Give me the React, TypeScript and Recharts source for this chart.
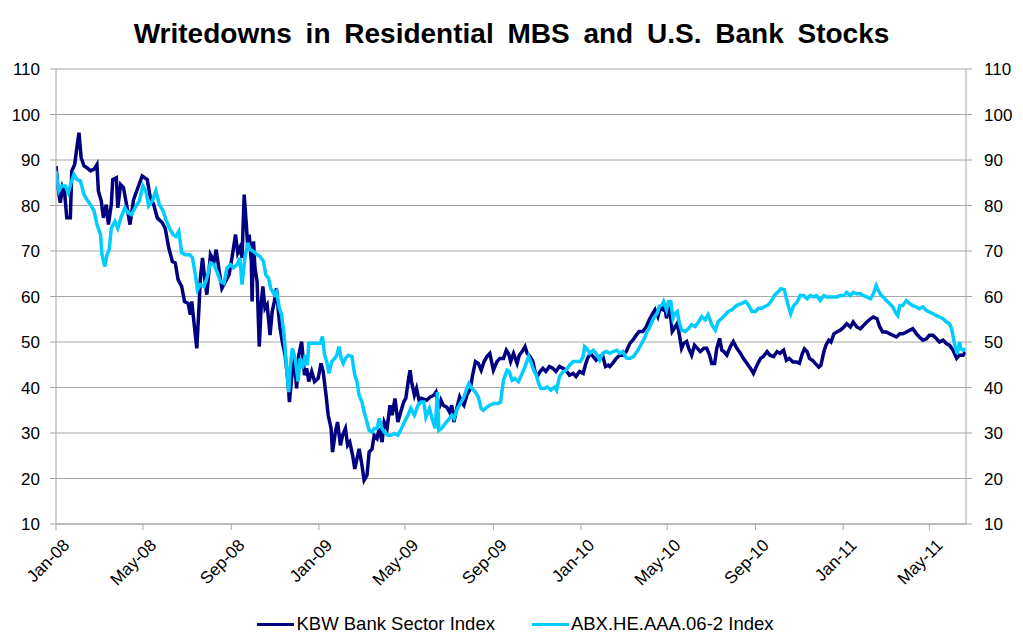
import React from "react";
import { LineChart, Line, XAxis, YAxis, CartesianGrid, Legend } from "recharts";

// x = days since 1 Jan 2008
const tickDays = [0, 121, 244, 366, 486, 609, 731, 851, 974, 1096, 1216];
const tickLabels = ["Jan-08", "May-08", "Sep-08", "Jan-09", "May-09", "Sep-09", "Jan-10", "May-10", "Sep-10", "Jan-11", "May-11"];
const yTicks = [10, 20, 30, 40, 50, 60, 70, 80, 90, 100, 110];

const kbwDays = [
  0, 3, 6, 9, 12, 15, 20, 22, 26, 29, 32, 35, 39, 43, 48, 53, 57, 59, 63, 66, 70, 73, 77, 79, 84, 86, 90, 94, 99, 103,
  108, 114, 120, 127, 131, 136, 141, 148, 152, 157, 162, 166, 170, 175, 179, 184, 187, 189, 193, 196, 199, 201, 204, 207, 210, 215, 220, 223, 227, 231,
  236, 241, 245, 250, 253, 256, 259, 262, 265, 267, 269, 272, 273, 275, 277, 280, 283, 286, 288, 291, 294, 298, 301, 304, 307, 310, 312, 315, 319, 323,
  325, 328, 332, 335, 338, 342, 346, 349, 352, 356, 360, 365, 369, 372, 376, 379, 383, 385, 389, 392, 396, 399, 403, 406, 409, 413, 416, 419, 422, 426,
  429, 433, 436, 440, 443, 447, 450, 454, 457, 461, 465, 468, 472, 476, 480, 484, 487, 491, 493, 495, 499, 502, 506, 509, 516, 521, 526, 529, 533, 536,
  539, 544, 548, 551, 554, 558, 562, 565, 568, 572, 577, 580, 584, 588, 592, 596, 600, 604, 609, 614, 618, 623, 627, 630, 633, 637, 642, 645, 649, 653,
  656, 660, 664, 667, 670, 674, 678, 682, 687, 692, 696, 701, 706, 710, 715, 720, 724, 729, 734, 737, 740, 744, 748, 752, 757, 761, 765, 769, 771, 775,
  780, 785, 789, 794, 799, 803, 808, 812, 817, 822, 826, 831, 834, 838, 841, 845, 847, 850, 853, 855, 858, 861, 865, 868, 871, 874, 878, 881, 885, 889,
  893, 897, 902, 906, 910, 913, 917, 920, 924, 927, 930, 934, 939, 943, 948, 953, 957, 962, 967, 971, 976, 981, 985, 990, 994, 999, 1004, 1008, 1013, 1017,
  1021, 1026, 1031, 1035, 1039, 1042, 1046, 1049, 1053, 1057, 1062, 1065, 1069, 1072, 1076, 1079, 1083, 1087, 1092, 1097, 1101, 1106, 1110, 1115, 1120, 1124, 1129, 1134, 1138, 1143,
  1147, 1151, 1156, 1161, 1165, 1170, 1175, 1179, 1184, 1189, 1193, 1198, 1202, 1207, 1212, 1216, 1221, 1226, 1230, 1235, 1240, 1244, 1249, 1254, 1258, 1263, 1266,
];
const kbwValues = [
  88.7, 83.5, 80.6, 84, 82.8, 77.3, 77.3, 87.6, 89, 92.7, 96, 90.5, 88.7, 88.3, 87.6, 88, 89, 83.2, 81, 77.3, 80.2, 75.8, 80.2, 85.7, 86.1, 79.5, 84.6, 83.9, 79.5, 75.8,
  81.3, 83.9, 86.5, 85.7, 82, 80.2, 77.3, 76.2, 75, 70.7, 67.7, 67.4, 63.7, 62.2, 58.9, 58.5, 56, 58.9, 53, 48.6, 57.4, 64, 68.5, 64, 60.4, 69.2, 67.7, 70.3, 65.9, 61.8,
  63.3, 64.8, 68.5, 73.6, 69.6, 70.7, 68.5, 82.4, 75.8, 70.7, 73.6, 67.7, 58.9, 72.1, 66.3, 63.3, 49, 58.9, 62.2, 57.4, 58.2, 51.5, 56.7, 58.9, 61.8, 56, 53, 50.1, 47.1, 41.3,
  36.8, 42, 46.4, 39.8, 47.1, 50.1, 42.7, 44.2, 41.3, 43.5, 41.3, 42, 45.3, 43.5, 38.3, 33.9, 31, 25.8, 30.2, 32.4, 27.3, 29.5, 31, 27.3, 28, 25.1, 22.1, 24.3, 26.5, 22.9,
  19.6, 20.7, 25.8, 26.5, 29.5, 28.8, 31, 28, 32.4, 31, 36.1, 33.9, 37.6, 32.4, 34.6, 36.8, 37.6, 42, 43.8, 41.3, 38.3, 39.8, 36.8, 37.6, 37.2, 37.9, 38.3, 39, 35.4, 37.2,
  36.1, 35.7, 34.6, 36.1, 32.4, 35.4, 37.9, 36.8, 36.1, 38.3, 39.8, 42.7, 45.7, 45.3, 43.8, 45.7, 46.8, 47.5, 43.8, 45.7, 46.4, 46.4, 48.2, 47.5, 45.7, 47.5, 45.3, 47.1, 47.9, 49,
  47.5, 46.8, 45.7, 43.5, 42.4, 43.5, 44.2, 43.5, 44.6, 44.2, 43.5, 44.6, 44.2, 43.8, 42.7, 43.1, 42.4, 43.5, 43.1, 44.9, 46.4, 47.5, 46.8, 46, 46.8, 47.1, 44.6, 44.9, 44.6, 45.3,
  46.4, 47.1, 47.1, 47.9, 49.7, 50.4, 51.5, 52.3, 52.3, 53.4, 54.9, 56.3, 57.1, 55.6, 57.4, 57.1, 58.5, 55.2, 57.4, 56.7, 52.3, 53, 54.1, 51.5, 48.6, 49.7, 50.1, 48.6, 47.1, 49.3,
  48.6, 47.9, 48.6, 48.6, 47.1, 45.3, 45.3, 48.6, 50.8, 48.2, 47.9, 47.1, 49, 50.1, 48.6, 47.5, 46.4, 45.3, 44.2, 43.1, 44.9, 46.4, 46.8, 47.9, 47.1, 46.8, 47.9, 47.5, 48.2, 46,
  46.4, 45.6, 45.6, 45.3, 47.4, 48.5, 47.8, 46.4, 46, 45.3, 44.5, 44.9, 47.8, 49.3, 50.4, 50, 51.8, 52.2, 52.6, 53.3, 54, 53.3, 54.4, 53.3, 52.9, 53.6, 54.4, 55.1, 55.5, 55.1,
  53.3, 52.2, 52.2, 51.8, 51.5, 51.1, 51.8, 51.8, 52.2, 52.6, 52.9, 51.8, 51.1, 50.4, 50.7, 51.5, 51.5, 50.7, 50, 50.4, 49.6, 49.3, 48.2, 46.4, 47.1, 47.1, 47.8,
];

const abxDays = [
  0, 4, 8, 13, 17, 21, 25, 29, 34, 39, 43, 48, 53, 57, 62, 64, 68, 71, 74, 77, 82, 86, 91, 96, 100, 105, 110, 116, 121, 125,
  129, 134, 139, 144, 149, 153, 158, 163, 167, 171, 175, 180, 186, 190, 194, 197, 201, 206, 210, 215, 220, 224, 229, 234, 238, 243, 247, 252, 256, 259,
  263, 267, 270, 275, 280, 284, 289, 292, 296, 299, 304, 307, 311, 314, 317, 319, 321, 324, 326, 329, 333, 337, 340, 343, 347, 350, 352, 357, 363, 368,
  371, 374, 377, 380, 384, 388, 391, 394, 397, 400, 403, 407, 412, 416, 419, 422, 426, 429, 433, 436, 440, 443, 447, 450, 454, 457, 462, 467, 471, 476,
  481, 485, 490, 494, 499, 504, 508, 512, 515, 520, 525, 528, 531, 533, 537, 542, 546, 551, 554, 559, 564, 568, 572, 575, 579, 584, 588, 592, 595, 600,
  604, 609, 615, 619, 623, 628, 631, 635, 639, 644, 649, 653, 658, 661, 665, 669, 672, 675, 680, 684, 689, 694, 697, 701, 706, 710, 715, 720, 725, 730,
  734, 736, 739, 743, 748, 752, 757, 761, 766, 771, 776, 781, 785, 789, 794, 799, 804, 809, 813, 818, 823, 827, 832, 837, 840, 844, 846, 850, 853, 856,
  859, 862, 865, 868, 871, 876, 881, 885, 890, 895, 899, 904, 908, 913, 918, 922, 927, 932, 936, 941, 946, 950, 955, 960, 964, 969, 974, 978, 983, 987,
  992, 997, 1001, 1006, 1009, 1014, 1017, 1020, 1023, 1027, 1032, 1036, 1041, 1046, 1050, 1055, 1059, 1064, 1069, 1073, 1078, 1083, 1087, 1092, 1097, 1101, 1106, 1110, 1115, 1120,
  1124, 1129, 1134, 1138, 1142, 1145, 1149, 1152, 1156, 1161, 1165, 1170, 1172, 1175, 1179, 1184, 1189, 1193, 1198, 1202, 1207, 1212, 1216, 1221, 1226, 1230, 1235, 1240, 1244, 1247,
  1250, 1252, 1255, 1258, 1260, 1263, 1266,
];
const abxValues = [
  87.6, 83.2, 84.3, 84.3, 82.8, 85, 86.8, 85.7, 85.4, 82.4, 81.3, 80.2, 78.8, 75.8, 73.6, 69.2, 66.6, 69.2, 70.3, 75, 76.5, 75, 77.6, 79.5, 78.4, 78, 79.5, 81, 84.3, 83.2,
  79.9, 81, 83.2, 80.2, 78.8, 76.9, 75, 73.6, 73.2, 74.3, 69.6, 69.2, 69.2, 68.5, 64.8, 61.5, 62.6, 62.2, 64, 67.4, 67, 65.5, 63.3, 62.9, 66.3, 67, 66.3, 67, 68.5, 62.6,
  68.5, 71.8, 70.3, 69.9, 69.2, 68.8, 67.7, 64.8, 64, 61.8, 60.4, 61.1, 57.4, 56, 52.3, 48.6, 44.2, 39, 44.2, 48.6, 46.4, 41.3, 46.4, 44.2, 47.1, 44.9, 49.7, 49.7, 49.7, 49.7,
  51.2, 47.1, 45.7, 43.1, 45.7, 46.4, 47.1, 49, 46.4, 45.3, 46.4, 47.1, 46.8, 42.7, 41.3, 38.3, 36.8, 34.6, 32.4, 30.6, 30.2, 31, 31, 33.2, 31, 30.2, 29.5, 29.5, 29.9, 29.5,
  31, 32.4, 33.9, 35.4, 33.9, 36.1, 36.8, 36.8, 33.5, 35.4, 32.4, 31, 39, 30.6, 31, 32.1, 32.8, 33.9, 33.2, 35.4, 36.8, 37.9, 39.8, 40.9, 39.8, 39, 37.9, 35.4, 35, 35.7,
  36.1, 36.5, 36.5, 36.8, 41.6, 43.8, 43.5, 41.6, 42, 41.3, 43.1, 44.6, 46.8, 45.7, 43.8, 42.7, 40.9, 39.8, 39.8, 40.1, 39.4, 40.1, 39.4, 42.4, 43.5, 43.8, 44.9, 45.7, 45.7, 45.7,
  46.8, 49, 48.6, 47.5, 48.2, 47.5, 46, 47.5, 47.9, 47.5, 47.9, 48.2, 47.5, 47.9, 46.5, 46.4, 46.8, 47.9, 49, 50.4, 52.3, 53.4, 55.2, 56.3, 57.8, 58.2, 58.9, 57.1, 58.9, 58.9,
  55.2, 56.3, 56.7, 54.1, 52.6, 52.3, 53, 53.8, 53.4, 54.5, 55.6, 54.9, 56, 53.8, 52.6, 54.5, 55.2, 56, 56.7, 57.1, 57.8, 58.2, 58.5, 58.9, 58.2, 56.7, 56.7, 57.4, 57.4, 57.8,
  58.2, 59.3, 60.4, 61.1, 61.7, 61.5, 59.5, 57.7, 56.2, 58, 58.8, 60.2, 60.2, 59.5, 60.2, 59.9, 60.2, 59.1, 60.2, 59.9, 59.9, 59.9, 59.9, 60.2, 60.2, 60.9, 60.2, 60.9, 60.6, 60.6,
  60.2, 59.9, 59.5, 60.6, 62.4, 61.3, 60.2, 59.9, 59.1, 58.4, 57.7, 56.2, 55.8, 58, 58, 59.1, 58.4, 58, 57.7, 57.3, 57.7, 56.9, 56.6, 56.2, 55.8, 55.5, 55.1, 54.4, 54, 52.9,
  50.4, 48.9, 47.4, 50, 48.5, 48.2, 48.5,
];

const kbwData = kbwDays.map((day, i) => ({ day, value: kbwValues[i] }));
const abxData = abxDays.map((day, i) => ({ day, value: abxValues[i] }));

const FONT = "'Liberation Sans', Arial, sans-serif";
const DARK = "#000080";
const LIGHT = "#00CCFF";
const AXIS = "#a6a6a6";

const DateTick = (props: any) => {
  const { x, y, payload } = props;
  const label = tickLabels[tickDays.indexOf(payload.value)];
  return (
    <g transform={`translate(${x + 6},${y + 6})`}>
      <text textAnchor="end" transform="rotate(-45)" dy="0.7em" fontSize={17} fill="#000" fontFamily={FONT}>
        {label}
      </text>
    </g>
  );
};

const renderLegend = () => (
  <div style={{ display: "flex", justifyContent: "center", fontFamily: FONT, fontSize: 18.5, color: "#000", paddingLeft: 8 }}>
    {[
      { name: "KBW Bank Sector Index", color: DARK },
      { name: "ABX.HE.AAA.06-2 Index", color: LIGHT },
    ].map((item, i) => (
      <div key={item.name} style={{ display: "flex", alignItems: "center", marginLeft: i === 0 ? 0 : 37 }}>
        <span style={{ display: "inline-block", width: 37, height: 3, background: item.color, marginRight: 2 }} />
        <span>{item.name}</span>
      </div>
    ))}
  </div>
);

export default function App() {
  return (
    <div style={{ position: "absolute", left: 0, top: 0, width: 1023, height: 643, background: "#fff" }}>
      <div
        style={{
          position: "absolute",
          left: 0,
          top: 18,
          width: 1023,
          textAlign: "center",
          fontFamily: FONT,
          fontWeight: "bold",
          fontSize: 28,
          wordSpacing: 6,
        }}
      >
        Writedowns in Residential MBS and U.S. Bank Stocks
      </div>
      <LineChart width={1023} height={643} margin={{ top: 69, right: 0, left: 0, bottom: 8 }}>
        <CartesianGrid vertical={false} stroke={AXIS} yAxisId="left" />
        <XAxis
          dataKey="day"
          type="number"
          domain={[0, 1267]}
          ticks={tickDays}
          interval={0}
          tick={<DateTick />}
          height={89}
          stroke={AXIS}
          tickSize={6}
          allowDataOverflow
        />
        <YAxis
          yAxisId="left"
          domain={[10, 110]}
          ticks={yTicks}
          interval={0}
          width={56}
          stroke={AXIS}
          tickSize={6}
          tickMargin={10}
          tick={{ fill: "#000", fontSize: 17, fontFamily: FONT }}
        />
        <YAxis
          yAxisId="right"
          orientation="right"
          domain={[10, 110]}
          ticks={yTicks}
          interval={0}
          width={57}
          stroke={AXIS}
          tickSize={6}
          tickMargin={12}
          tick={{ fill: "#000", fontSize: 17, fontFamily: FONT }}
        />
        <Legend verticalAlign="bottom" content={renderLegend} />
        <Line
          yAxisId="left"
          data={kbwData}
          dataKey="value"
          name="KBW Bank Sector Index"
          stroke={DARK}
          strokeWidth={3.5}
          dot={false}
          isAnimationActive={false}
        />
        <Line
          yAxisId="right"
          data={abxData}
          dataKey="value"
          name="ABX.HE.AAA.06-2 Index"
          stroke={LIGHT}
          strokeWidth={3.5}
          dot={false}
          isAnimationActive={false}
        />
      </LineChart>
    </div>
  );
}
